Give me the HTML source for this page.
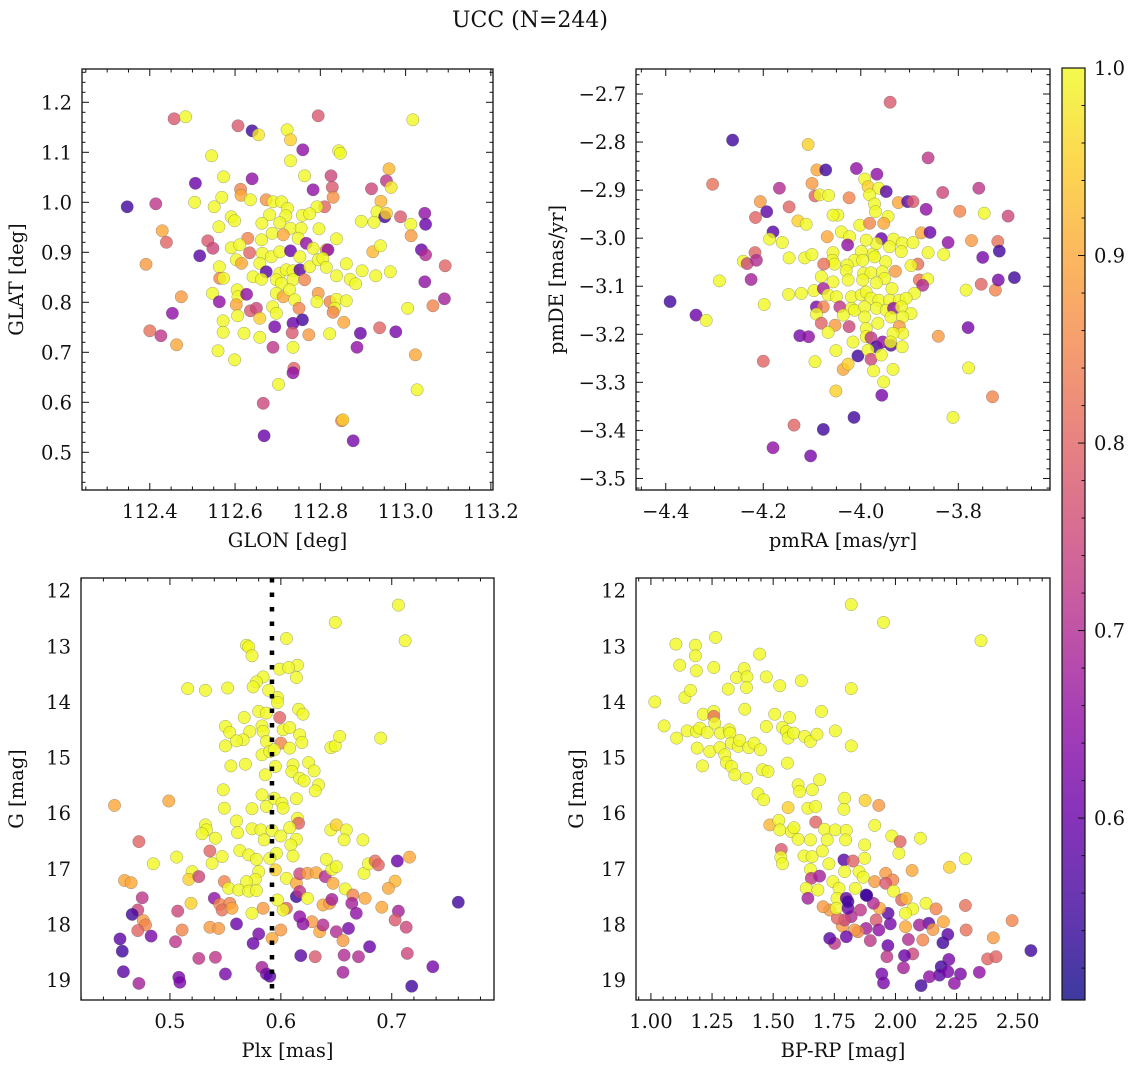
<!DOCTYPE html>
<html><head><meta charset="utf-8"><style>
html,body{margin:0;padding:0;background:#fff}
svg{display:block}
text{font-family:"DejaVu Serif","Liberation Serif",serif;fill:#111}
</style></head><body>
<svg id="fig" width="1136" height="1067" viewBox="0 0 1136 1067" xmlns="http://www.w3.org/2000/svg">
<text x="530" y="27" font-size="22" text-anchor="middle">UCC (N=244)</text>
</svg>
<script>
// ---------- DATA ----------
const tlGlon=[112.457,112.484,112.607,112.640,112.655,112.722,112.730,112.759,112.795,112.843,112.847,113.017,112.545,112.730,112.573,112.640,112.507,112.763,112.783,112.825,112.828,112.961,112.955,112.966,112.920,112.830,112.613,112.614,112.569,112.636,112.505,112.414,112.347,112.551,112.673,112.689,112.709,112.723,112.810,112.792,112.758,112.775,112.942,112.933,112.951,112.955,112.988,113.045,113.047,113.012,113.013,112.896,112.926,112.591,112.599,112.562,112.681,112.719,112.663,112.705,112.730,112.755,112.797,112.687,112.630,112.662,112.713,112.748,112.767,112.838,112.429,112.439,112.536,112.548,112.517,112.591,112.611,112.634,112.664,112.685,112.705,112.730,112.752,112.783,112.814,112.818,112.923,112.941,113.037,113.047,113.093,112.391,112.603,112.615,112.658,112.673,112.705,112.720,112.736,112.752,112.775,112.795,112.806,112.814,112.838,112.861,112.870,112.883,112.898,112.930,112.964,112.563,112.564,112.573,112.642,112.662,112.697,112.709,112.736,112.763,113.045,112.547,112.563,112.474,112.453,112.400,112.426,112.463,112.605,112.607,112.627,112.603,112.636,112.650,112.606,112.658,112.688,112.697,112.697,112.713,112.728,112.740,112.750,112.758,112.736,112.693,112.795,112.792,112.823,112.838,112.834,112.830,112.861,112.855,112.894,112.939,112.977,113.005,113.064,113.091,113.023,113.027,112.886,112.822,112.773,112.734,112.689,112.736,112.658,112.621,112.572,112.572,112.560,112.599,112.738,112.736,112.702,112.666,112.668,112.850,112.853,112.877];
const tlGlat=[1.167,1.171,1.153,1.143,1.135,1.145,1.125,1.105,1.173,1.103,1.098,1.165,1.093,1.083,1.051,1.047,1.038,1.053,1.025,1.053,1.030,1.067,1.043,1.030,1.027,1.010,1.026,1.014,1.010,1.005,1.000,0.997,0.991,0.991,1.005,1.001,1.001,0.988,0.991,0.991,0.974,0.977,1.002,0.981,0.971,0.978,0.971,0.978,0.956,0.956,0.933,0.962,0.960,0.971,0.963,0.951,0.975,0.973,0.958,0.959,0.948,0.948,0.947,0.938,0.928,0.925,0.935,0.928,0.918,0.927,0.943,0.920,0.923,0.908,0.893,0.909,0.915,0.899,0.898,0.891,0.901,0.903,0.891,0.908,0.905,0.905,0.901,0.913,0.905,0.895,0.873,0.876,0.885,0.878,0.878,0.861,0.858,0.865,0.863,0.865,0.871,0.885,0.888,0.870,0.853,0.877,0.846,0.837,0.863,0.853,0.861,0.871,0.848,0.848,0.851,0.846,0.845,0.838,0.845,0.845,0.841,0.818,0.801,0.811,0.778,0.743,0.733,0.715,0.825,0.811,0.816,0.795,0.783,0.788,0.773,0.768,0.791,0.818,0.778,0.811,0.825,0.805,0.788,0.765,0.758,0.751,0.818,0.801,0.801,0.806,0.788,0.780,0.803,0.760,0.738,0.749,0.741,0.788,0.793,0.807,0.695,0.625,0.710,0.737,0.735,0.739,0.710,0.710,0.730,0.738,0.763,0.740,0.703,0.685,0.668,0.659,0.636,0.598,0.533,0.563,0.565,0.523];
const tlProb=[.78,1,.78,.55,.98,1,.95,.65,.78,1,1,1,1,1,1,.65,.6,1,.65,.75,.78,.92,.72,.98,.75,.87,.85,.9,1,1,1,.72,.55,1,.87,1,1,1,.8,1,1,1,.92,1,.55,.95,.78,.65,.6,1,.88,1,1,1,1,1,1,1,1,1,1,1,1,1,.85,1,.9,1,.65,1,.9,.8,.78,.75,.58,1,1,.8,1,1,1,.6,1,1,.9,.65,.92,1,.6,.7,.8,.88,1,.9,1,.58,1,1,1,.58,1,1,1,1,1,1,1,1,1,1,1,1,.85,1,1,1,1,1,1,.85,.65,1,.65,.88,.65,.82,.72,.9,1,1,.65,.9,.78,.75,1,.95,1,1,1,.9,1,1,.85,.55,.6,.62,.88,1,.85,1,1,.85,1,.9,.6,.8,.62,1,.85,.68,.9,1,.65,1,.88,.78,.72,1,1,1,1,1,1,1,.8,.65,1,.75,.6,.85,.95,.62];

const trPmra=[-3.940,-4.263,-4.108,-4.304,-4.090,-4.072,-4.009,-3.967,-3.992,-3.985,-3.963,-3.948,-3.982,-3.972,-3.970,-3.944,-3.953,-3.862,-4.167,-4.100,-4.094,-4.084,-4.066,-4.024,-4.206,-4.193,-4.147,-4.216,-4.129,-4.112,-4.047,-4.057,-3.923,-3.904,-3.893,-3.866,-3.832,-3.797,-3.758,-3.747,-3.698,-4.180,-4.187,-4.161,-4.241,-4.233,-4.217,-4.214,-4.225,-4.290,-4.391,-4.338,-4.317,-4.198,-4.147,-4.115,-4.100,-4.148,-4.122,-4.096,-4.069,-4.040,-4.023,-4.027,-4.002,-3.982,-3.958,-3.933,-3.915,-3.893,-3.876,-3.858,-3.821,-3.773,-3.719,-3.716,-3.750,-3.830,-3.862,-3.883,-3.897,-3.929,-3.917,-3.941,-4.057,-3.949,-3.975,-3.968,-3.999,-3.989,-4.013,-4.028,-4.058,-4.054,-4.076,-4.081,-4.057,-4.030,-4.026,-3.996,-3.994,-3.979,-3.972,-3.956,-3.951,-3.968,-3.996,-3.880,-3.863,-3.873,-3.890,-3.936,-4.077,-4.067,-4.050,-4.019,-3.999,-3.989,-3.979,-3.963,-3.941,-3.921,-3.907,-3.784,-3.753,-3.724,-3.718,-3.685,-4.091,-4.077,-4.043,-4.019,-4.013,-3.992,-3.968,-3.948,-3.933,-3.917,-3.897,-4.091,-4.081,-4.053,-4.024,-4.067,-4.036,-3.992,-3.965,-3.938,-3.914,-3.921,-3.914,-3.934,-4.125,-4.107,-4.016,-3.989,-3.989,-3.979,-3.968,-3.955,-3.938,-3.939,-3.915,-3.841,-3.780,-4.200,-4.094,-4.051,-4.006,-3.985,-3.979,-3.958,-4.036,-4.026,-3.974,-3.934,-3.953,-4.051,-3.957,-3.779,-3.730,-4.014,-3.811,-4.137,-4.077,-4.180,-4.103];
const trPmde=[-2.717,-2.796,-2.805,-2.888,-2.858,-2.858,-2.855,-2.867,-2.877,-2.893,-2.896,-2.903,-2.910,-2.929,-2.945,-2.955,-2.969,-2.833,-2.896,-2.886,-2.912,-2.910,-2.911,-2.916,-2.924,-2.945,-2.935,-2.957,-2.964,-2.971,-2.952,-2.952,-2.926,-2.924,-2.924,-2.940,-2.905,-2.944,-2.896,-2.948,-2.954,-2.987,-3.002,-3.009,-3.048,-3.053,-3.030,-3.046,-3.086,-3.089,-3.132,-3.160,-3.171,-3.138,-3.041,-3.041,-3.034,-3.117,-3.115,-3.109,-2.997,-2.987,-2.997,-3.014,-2.973,-2.969,-3.001,-3.002,-3.010,-3.009,-2.989,-2.988,-3.009,-3.005,-3.007,-3.027,-3.040,-3.034,-3.030,-3.054,-3.057,-3.069,-3.028,-3.018,-3.030,-3.049,-3.033,-3.011,-3.028,-3.004,-3.046,-3.056,-3.046,-3.054,-3.054,-3.080,-3.091,-3.068,-3.087,-3.046,-3.073,-3.072,-3.039,-3.070,-3.084,-3.093,-3.087,-3.087,-3.085,-3.098,-3.115,-3.105,-3.105,-3.118,-3.122,-3.122,-3.118,-3.112,-3.125,-3.129,-3.129,-3.129,-3.125,-3.108,-3.096,-3.108,-3.087,-3.082,-3.143,-3.143,-3.143,-3.146,-3.150,-3.143,-3.146,-3.150,-3.146,-3.143,-3.157,-3.158,-3.177,-3.181,-3.184,-3.196,-3.160,-3.164,-3.177,-3.164,-3.164,-3.184,-3.198,-3.198,-3.203,-3.205,-3.216,-3.188,-3.205,-3.207,-3.226,-3.216,-3.223,-3.216,-3.226,-3.204,-3.186,-3.256,-3.257,-3.234,-3.245,-3.233,-3.252,-3.243,-3.273,-3.262,-3.276,-3.273,-3.299,-3.318,-3.327,-3.270,-3.330,-3.373,-3.373,-3.389,-3.398,-3.436,-3.453];
const trProb=[.78,.55,.95,.82,.9,.55,.65,.65,1,.95,1,.58,1,1,1,1,.9,.72,.7,.88,.8,1,1,.85,.88,.58,.8,.8,.95,1,1,1,.9,.58,.78,.65,.75,.85,.72,1,.75,.58,1,1,1,.75,.8,.7,.68,1,.55,.6,1,1,1,1,1,1,1,1,.9,1,1,.65,1,.85,.6,1,1,1,.9,.6,.65,.88,.82,.55,.62,1,1,.82,1,.88,1,1,1,1,1,1,1,1,1,1,1,1,.82,1,1,1,1,1,1,1,1,1,1,1,1,.82,1,.7,1,1,.68,1,1,1,1,1,1,1,1,1,1,1,.8,.85,.62,.55,.62,.85,.72,1,1,1,1,1,.65,1,1,1,.8,.88,.75,1,1,1,1,1,1,.88,1,1,.62,.65,1,1,1,.72,.55,.65,.58,1,1,.88,.62,.8,1,1,.55,1,.75,1,.9,.95,1,1,1,.95,.62,1,.85,.55,1,.8,.55,.65,.62];

const blPlx=[0.706,0.649,0.712,0.605,0.569,0.571,0.574,0.615,0.599,0.607,0.614,0.584,0.578,0.575,0.516,0.532,0.552,0.589,0.597,0.597,0.616,0.620,0.599,0.580,0.587,0.567,0.550,0.554,0.572,0.566,0.560,0.583,0.584,0.587,0.602,0.608,0.600,0.617,0.619,0.608,0.550,0.583,0.590,0.594,0.555,0.568,0.586,0.595,0.611,0.610,0.625,0.630,0.617,0.621,0.634,0.631,0.645,0.649,0.653,0.690,0.548,0.549,0.574,0.583,0.587,0.594,0.601,0.602,0.614,0.615,0.616,0.450,0.499,0.532,0.533,0.529,0.541,0.560,0.561,0.574,0.582,0.585,0.592,0.600,0.608,0.614,0.609,0.611,0.596,0.590,0.563,0.571,0.578,0.547,0.536,0.538,0.472,0.506,0.485,0.520,0.517,0.526,0.459,0.465,0.580,0.577,0.569,0.549,0.553,0.562,0.571,0.578,0.595,0.605,0.614,0.617,0.624,0.632,0.640,0.647,0.646,0.650,0.641,0.645,0.650,0.659,0.657,0.674,0.658,0.665,0.676,0.675,0.679,0.685,0.688,0.705,0.716,0.703,0.697,0.691,0.706,0.703,0.713,0.760,0.714,0.737,0.718,0.680,0.670,0.657,0.656,0.661,0.650,0.656,0.664,0.668,0.638,0.644,0.646,0.635,0.638,0.628,0.620,0.617,0.605,0.614,0.617,0.624,0.631,0.618,0.602,0.597,0.584,0.574,0.600,0.592,0.580,0.575,0.583,0.587,0.590,0.560,0.550,0.541,0.526,0.536,0.544,0.540,0.545,0.554,0.547,0.556,0.519,0.507,0.511,0.505,0.508,0.509,0.475,0.471,0.466,0.476,0.478,0.471,0.483,0.455,0.457,0.458,0.472];
const blG=[12.26,12.57,12.90,12.86,12.98,13.01,13.17,13.34,13.41,13.38,13.56,13.55,13.64,13.73,13.76,13.79,13.75,13.79,13.92,14.01,14.13,14.22,14.28,14.17,14.20,14.28,14.44,14.55,14.53,14.68,14.70,14.43,14.53,14.71,14.50,14.46,14.74,14.59,14.73,14.83,14.79,14.95,14.89,14.86,15.15,15.12,15.31,15.16,15.13,15.25,15.09,15.24,15.37,15.42,15.49,15.60,14.82,14.79,14.62,14.65,15.58,15.91,15.92,15.67,15.88,15.73,15.82,15.91,15.74,16.09,16.18,15.86,15.78,16.21,16.30,16.37,16.45,16.14,16.35,16.28,16.30,16.48,16.31,16.41,16.26,16.47,16.57,16.77,16.72,16.81,16.67,16.75,16.83,16.78,16.68,16.90,16.51,16.79,16.91,17.05,17.19,17.14,17.21,17.25,17.05,17.19,17.23,17.23,17.35,17.38,17.40,17.39,17.02,17.17,17.26,17.09,17.08,17.07,17.14,17.26,17.01,16.96,16.83,16.30,16.21,16.30,16.48,16.48,17.36,17.47,17.53,17.08,16.91,16.86,16.93,16.86,16.79,17.22,17.35,17.69,17.76,17.92,18.05,17.60,18.52,18.76,19.11,18.40,18.58,18.55,18.86,18.07,18.13,18.29,17.62,17.80,17.65,17.62,17.55,18.13,18.01,17.95,17.99,17.86,17.71,17.50,17.41,17.53,18.58,18.56,17.74,17.56,17.71,17.80,18.10,18.25,18.17,18.34,18.77,18.89,18.93,17.99,18.89,18.59,18.61,18.05,18.07,17.53,17.64,17.62,17.74,17.71,17.62,17.76,18.10,18.31,18.95,19.04,17.52,17.74,17.82,17.93,18.01,18.11,18.21,18.26,18.48,18.85,19.06];
const blProb=[1,1,1,1,1,1,1,1,1,1,1,1,1,1,1,1,1,1,1,1,1,1,.8,1,1,1,1,1,1,1,1,1,1,1,1,1,.85,1,1,1,1,1,1,1,1,1,1,1,1,1,1,1,1,1,1,1,1,1,1,1,1,1,1,1,1,1,1,1,1,1,.8,.9,.9,1,1,1,1,1,1,1,1,1,1,1,1,1,1,1,1,1,1,1,1,1,.8,1,.8,1,1,1,.95,.75,.9,.9,1,1,1,.85,1,1,1,1,.95,1,.9,.75,.88,.9,.7,.9,1,1,1,1,.95,1,1,1,1,.85,.9,1,1,.82,.8,.6,.9,.92,.9,.9,.68,.78,.75,.55,.75,.62,.55,.6,.7,.7,.68,.62,.7,.88,.68,.65,.9,.88,.68,.9,.7,.88,.65,.65,.8,.55,.72,1,.78,.58,1,1,.88,1,.88,.9,.62,.6,.68,.62,.58,.6,.62,.72,.72,.88,.88,.65,.85,.85,.82,.9,.95,.75,.85,.72,.62,.62,.72,.75,.55,.88,.85,.8,.62,.58,.55,.58,.68];

const brColor=[1.819,1.951,2.350,1.102,1.182,1.182,1.264,1.118,1.186,1.257,1.445,1.381,1.350,1.393,1.391,1.316,1.472,1.527,1.615,1.819,1.016,1.139,1.162,1.214,1.257,1.257,1.261,1.384,1.506,1.567,1.697,1.054,1.105,1.148,1.186,1.200,1.230,1.284,1.320,1.323,1.472,1.538,1.554,1.561,1.584,1.629,1.652,1.679,1.754,1.819,1.189,1.241,1.282,1.302,1.329,1.357,1.363,1.400,1.422,1.448,1.211,1.309,1.329,1.343,1.391,1.456,1.479,1.558,1.438,1.461,1.602,1.608,1.660,1.690,1.561,1.642,1.674,1.792,1.789,1.876,1.932,1.486,1.523,1.527,1.533,1.531,1.538,1.574,1.585,1.602,1.674,1.652,1.710,1.721,1.754,1.799,1.796,1.874,1.915,1.985,2.019,2.102,2.014,1.626,1.659,1.701,1.728,1.652,1.874,1.789,1.826,1.792,1.851,1.868,2.068,2.221,2.286,1.656,1.690,1.635,1.683,1.642,1.744,1.769,1.761,1.799,1.836,1.880,1.915,1.960,1.989,1.960,1.992,2.025,2.044,2.071,2.041,2.125,2.166,2.286,2.196,2.136,2.098,2.041,2.153,2.289,2.112,2.194,2.214,2.400,2.477,2.554,2.377,2.411,2.343,2.266,2.241,2.218,2.187,2.180,2.214,2.139,2.105,2.071,2.037,2.033,1.969,1.965,1.944,1.951,2.053,1.979,1.970,1.935,1.910,1.921,1.932,1.897,1.880,1.847,1.833,1.819,1.857,1.783,1.792,1.799,1.762,1.731,1.758,1.806,1.704,1.751,1.731,1.806,1.883];
const brG=[12.25,12.57,12.90,12.96,12.98,13.17,12.84,13.34,13.44,13.38,13.14,13.40,13.56,13.55,13.74,13.77,13.55,13.71,13.62,13.76,14.00,13.92,13.79,14.22,14.17,14.26,14.38,14.13,14.22,14.28,14.17,14.43,14.65,14.52,14.53,14.47,14.55,14.56,14.50,14.56,14.44,14.46,14.53,14.65,14.56,14.62,14.71,14.58,14.52,14.79,14.83,14.89,14.82,14.95,14.74,14.80,14.69,14.82,14.74,14.86,15.15,15.09,15.16,15.31,15.37,15.22,15.25,15.10,15.65,15.76,15.49,15.61,15.58,15.40,15.90,15.91,15.88,15.73,15.93,15.77,15.86,16.21,16.13,16.30,16.65,16.79,16.91,16.33,16.26,16.47,16.16,16.48,16.29,16.48,16.30,16.31,16.48,16.57,16.22,16.41,16.51,16.45,16.72,16.77,16.78,16.68,16.91,17.01,16.81,16.84,16.86,17.05,17.05,17.15,17.03,16.97,16.82,17.17,17.13,17.35,17.38,17.53,17.23,17.35,17.53,17.53,17.35,17.47,17.23,17.08,17.20,17.26,17.40,17.56,17.53,17.72,17.80,17.62,17.72,17.66,17.95,17.98,18.01,18.04,18.09,18.10,18.28,18.33,18.18,18.24,17.93,18.47,18.62,18.58,18.86,18.89,19.06,18.63,18.76,18.91,18.85,18.94,19.10,18.53,18.56,18.78,18.38,18.58,18.89,19.05,18.27,17.99,17.80,17.71,17.62,17.92,18.10,18.29,18.07,18.13,18.10,17.86,17.74,18.03,17.92,18.22,17.89,17.74,17.71,17.71,17.68,18.34,18.25,17.59,17.48];
const brProb=[1,1,1,1,1,1,1,1,1,1,1,1,1,1,1,1,1,1,1,1,1,1,1,1,1,.82,1,1,1,1,1,1,1,1,1,1,1,1,1,1,1,1,1,1,1,1,1,1,1,1,1,1,1,1,1,1,1,1,1,1,1,1,1,1,1,1,1,1,1,1,1,1,1,1,.95,1,1,1,1,.95,.88,.92,1,1,.78,1,1,1,1,1,.8,1,1,1,1,1,1,1,1,1,.8,1,1,1,1,1,1,1,1,.58,.8,1,1,1,.9,.95,1,.72,.68,1,1,.68,1,1,1,.6,1,.55,.88,.88,.85,.78,1,.8,.92,1,1,1,.85,.82,.9,.58,.68,.9,.88,.82,.85,.55,.58,.88,.85,.55,.8,.8,.65,.62,.65,.62,.55,.58,.62,.65,.55,.75,.6,.68,.6,.72,.62,.62,.7,.62,.58,.9,.7,.78,.65,.72,.68,.85,.88,.7,.72,.88,.75,.6,.8,.88,1,.6,.88,.72,.58,.55,.55];

// tick labels
const tlXTicks=[112.4,112.6,112.8,113.0,113.2];
const tlYTicks=[0.5,0.6,0.7,0.8,0.9,1.0,1.1,1.2];
const trXTicks=[-4.4,-4.2,-4.0,-3.8];
const trYTicks=[-3.5,-3.4,-3.3,-3.2,-3.1,-3.0,-2.9,-2.8,-2.7];
const blXTicks=[0.5,0.6,0.7];
const gTicks=[12,13,14,15,16,17,18,19];
const brXTicks=[1.00,1.25,1.50,1.75,2.00,2.25,2.50];
const cbTicks=[0.6,0.7,0.8,0.9,1.0];
const plxLine=[0.592];
const cMin=0.503, cMax=1.0;

// ---------- RENDER ----------
const NS='http://www.w3.org/2000/svg';
const svg=document.getElementById('fig');
const FS=19.5;
function mk(tag,attrs,parent){const e=document.createElementNS(NS,tag);for(const k in attrs)e.setAttribute(k,attrs[k]);(parent||svg).appendChild(e);return e;}
const plasma=[[13,8,135],[65,4,157],[106,0,168],[143,13,164],[177,42,144],[204,71,120],[225,100,98],[242,132,75],[252,166,54],[252,206,37],[240,249,33]];
function cmap(v){let t=(v-cMin)/(cMax-cMin);t=Math.max(0,Math.min(1,t));const s=t*10;const i=Math.min(9,Math.floor(s));const f=s-i;const a=plasma[i],b=plasma[i+1];return 'rgb('+[0,1,2].map(k=>Math.round(a[k]+(b[k]-a[k])*f)).join(',')+')';}
function lin(d0,d1,p0,p1){return v=>p0+(v-d0)/(d1-d0)*(p1-p0);}
const minus=s=>s.replace('-','\u2212');

function panel(o){
  const g=mk('g',{});
  
  
  const sx=lin(o.xlim[0],o.xlim[1],o.x0,o.x1);
  const sy=lin(o.ylim[0],o.ylim[1],o.y1,o.y0);
  const clip='clip-'+o.name;
  const cp=mk('clipPath',{id:clip},g);mk('rect',{x:o.x0,y:o.y0,width:o.x1-o.x0,height:o.y1-o.y0},cp);
  const pts=mk('g',{'clip-path':'url(#'+clip+')'},g);
  
  
  for(let i=0;i<o.xs.length;i++){
    const c=mk('circle',{cx:sx(o.xs[i]).toFixed(1),cy:sy(o.ys[i]).toFixed(1),r:6.2,fill:cmap(o.cs[i]),'fill-opacity':0.8,stroke:'#555','stroke-width':0.5,'stroke-opacity':0.55},pts);
    
    
  }
  if(o.vline){for(const v of o.vline){const l=mk('line',{x1:sx(v),x2:sx(v),y1:o.y0,y2:o.y1,stroke:'#000','stroke-width':4.5,'stroke-dasharray':'4.5 10'},g);}}
  const fr=mk('rect',{x:o.x0,y:o.y0,width:o.x1-o.x0,height:o.y1-o.y0,fill:'none',stroke:'#111','stroke-width':1.3},g);
  
  
  const tk=mk('g',{stroke:'#111','stroke-width':1},g);
  const xmin=Math.ceil((o.xlim[0]-1e-9)/o.xminor);
  for(let k=xmin;k*o.xminor<=o.xlim[1];k++){const v=k*o.xminor;const isMaj=o.xt.some(t=>Math.abs(t-v)<1e-6);const L=isMaj?7:3.5;const X=sx(v);
    mk('line',{x1:X,x2:X,y1:o.y1,y2:o.y1-L},tk);mk('line',{x1:X,x2:X,y1:o.y0,y2:o.y0+L},tk);}
  const ymin=Math.ceil((o.ylim[0]-1e-9)/o.yminor);
  for(let k=ymin;k*o.yminor<=o.ylim[1]+1e-9;k++){const v=k*o.yminor;const isMaj=o.yt.some(t=>Math.abs(t-v)<1e-6);const L=isMaj?7:3.5;const Y=sy(v);
    mk('line',{x1:o.x0,x2:o.x0+L,y1:Y,y2:Y},tk);mk('line',{x1:o.x1,x2:o.x1-L,y1:Y,y2:Y},tk);}
  for(const t of o.xt){const e=mk('text',{x:sx(t),y:o.y1+28,'font-size':FS,'text-anchor':'middle'},g);e.textContent=minus(t.toFixed(o.xdec));}
  for(const t of o.yt){const e=mk('text',{x:o.x0-10,y:sy(t)+7,'font-size':FS,'text-anchor':'end'},g);e.textContent=minus(t.toFixed(o.ydec));}
  const xl=mk('text',{x:(o.x0+o.x1)/2,y:o.y1+57,'font-size':FS,'text-anchor':'middle'},g);xl.textContent=o.xlabel;
  
  
  const yc=(o.y0+o.y1)/2;
  const yl=mk('text',{x:o.ylx,y:yc,'font-size':FS,'text-anchor':'middle',transform:'rotate(-90 '+o.ylx+' '+yc+')'},g);yl.textContent=o.ylabel;
  
  
}
panel({name:'glon-glat-panel',x0:82,x1:493,y0:69,y1:490,xlim:[112.241,113.205],ylim:[0.4246,1.2666],xs:tlGlon,ys:tlGlat,cs:tlProb,xt:tlXTicks,yt:tlYTicks,xminor:0.05,yminor:0.02,xdec:1,ydec:1,xlabel:'GLON [deg]',ylabel:'GLAT [deg]',ylx:23});
panel({name:'pm-panel',x0:636,x1:1050,y0:69,y1:490,xlim:[-4.461,-3.612],ylim:[-3.524,-2.648],xs:trPmra,ys:trPmde,cs:trProb,xt:trXTicks,yt:trYTicks,xminor:0.05,yminor:0.02,xdec:1,ydec:1,xlabel:'pmRA [mas/yr]',ylabel:'pmDE [mas/yr]',ylx:563});
panel({name:'plx-g-panel',x0:81,x1:494,y0:578,y1:1000,xlim:[0.4198,0.7922],ylim:[19.358,11.772],xs:blPlx,ys:blG,cs:blProb,xt:blXTicks,yt:gTicks,xminor:0.02,yminor:0.2,xdec:1,ydec:0,xlabel:'Plx [mas]',ylabel:'G [mag]',ylx:23,vline:plxLine});
panel({name:'cmd-panel',x0:636,x1:1050,y0:578,y1:1000,xlim:[0.939,2.632],ylim:[19.358,11.772],xs:brColor,ys:brG,cs:brProb,xt:brXTicks,yt:gTicks,xminor:0.05,yminor:0.2,xdec:2,ydec:0,xlabel:'BP-RP [mag]',ylabel:'G [mag]',ylx:583});

// colorbar
(function(){
  const x0=1062,x1=1085,y0=68,y1=1000;
  const g=mk('g',{});
  
  
  const defs=mk('defs',{},g);
  const lg=mk('linearGradient',{id:'cbg',x1:0,y1:1,x2:0,y2:0},defs);
  for(let i=0;i<=20;i++){const v=cMin+(cMax-cMin)*i/20;mk('stop',{offset:(i/20),'stop-color':cmap(v),'stop-opacity':0.8},lg);}
  mk('rect',{x:x0,y:y0,width:x1-x0,height:y1-y0,fill:'url(#cbg)',stroke:'#111','stroke-width':1.2},g);
  const sy=lin(cMin,cMax,y1,y0);
  for(let k=Math.ceil(cMin/0.02);k*0.02<=cMax+1e-9;k++){const v=k*0.02;const maj=cbTicks.some(t=>Math.abs(t-v)<1e-6);mk('line',{x1:x1,x2:x1-(maj?7:3.5),y1:sy(v),y2:sy(v),stroke:'#111','stroke-width':1},g);}
  for(const t of cbTicks){const e=mk('text',{x:x1+9,y:sy(t)+7,'font-size':FS},g);e.textContent=t.toFixed(1);}
})();
</script>
</body></html>
